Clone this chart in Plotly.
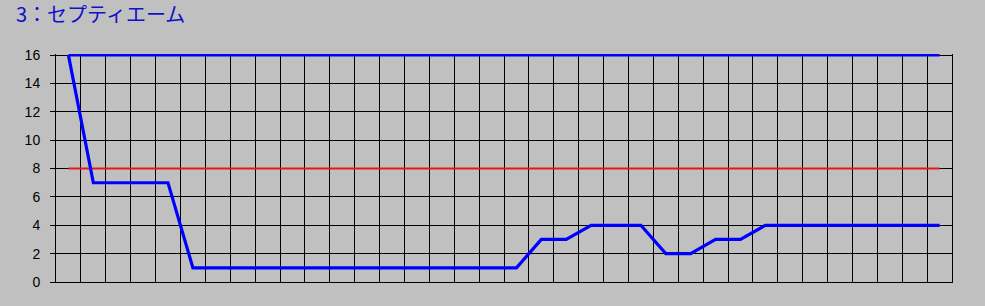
import plotly.graph_objects as go

title_text = "3：セプティエーム"
points = list(range(1, 37))
values = [16, 7, 7, 7, 7, 1, 1, 1, 1, 1, 1, 1, 1, 1, 1, 1, 1, 1, 1,
          3, 3, 4, 4, 4, 2, 2, 3, 3, 4, 4, 4, 4, 4, 4, 4, 4]
upper_line = [16, 16]
mid_line = [8, 8]
y_ticks = [0, 2, 4, 6, 8, 10, 12, 14, 16]

fig = go.Figure()
fig.add_trace(go.Scatter(x=[points[0], points[-1]], y=upper_line, mode="lines",
                         line=dict(color="#0000ff", width=2.8), hoverinfo="skip"))
fig.add_trace(go.Scatter(x=[points[0], points[-1]], y=mid_line, mode="lines",
                         line=dict(color="#e81818", width=2), hoverinfo="skip"))
fig.add_trace(go.Scatter(x=points, y=values, mode="lines",
                         line=dict(color="#0000ff", width=3.2), cliponaxis=False))

fig.update_layout(
    width=985, height=306,
    margin=dict(l=56, r=33, t=54, b=24),
    paper_bgcolor="#c0c0c0", plot_bgcolor="#c0c0c0",
    showlegend=False,
    title=dict(text=title_text, x=16 / 985, xref="container", xanchor="left",
               y=1 - 15 / 306, yref="container", yanchor="middle",
               font=dict(family="Noto Sans CJK JP", size=20, color="#1010c8")),
    font=dict(family="Liberation Sans", size=13, color="#000000"),
)
fig.update_xaxes(range=[0.5, 36.5], tick0=0.5, dtick=1, showticklabels=False,
                 showgrid=True, gridcolor="#000000", gridwidth=1,
                 showline=True, linecolor="#000000", linewidth=1, mirror=False,
                 zeroline=False, ticks="", layer="below traces")
fig.update_yaxes(range=[0, 16.08], tickvals=y_ticks, ticktext=[str(v) for v in y_ticks],
                 showgrid=True, gridcolor="#000000", gridwidth=1,
                 showline=True, linecolor="#000000", linewidth=1, mirror=True,
                 zeroline=False, ticks="outside", ticklen=5, tickcolor="#000000",
                 ticklabelstandoff=7, layer="below traces",
                 tickfont=dict(family="Liberation Sans", size=14, color="#000000"))

fig.write_html("out.html")
